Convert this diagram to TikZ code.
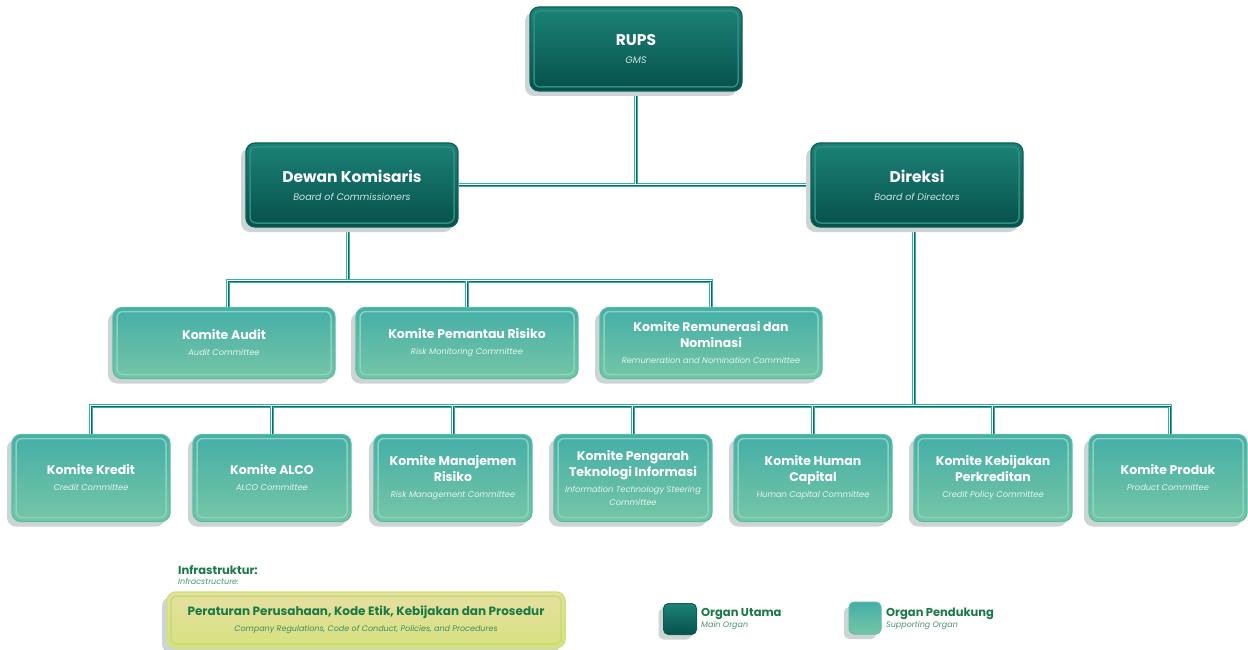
\documentclass[tikz,border=0pt]{standalone}
\usepackage{fontspec}
\setmainfont{Poppins}
\usetikzlibrary{backgrounds}
\definecolor{darkTop}{HTML}{1C8277}
\definecolor{darkBot}{HTML}{06504A}
\definecolor{darkEdge}{HTML}{0E5E56}
\definecolor{darkInner}{HTML}{2E8E84}
\definecolor{lightTop}{HTML}{44AEA8}
\definecolor{lightBot}{HTML}{76C6A5}
\definecolor{lightEdge}{HTML}{5BBBAA}
\definecolor{lightInner}{HTML}{8AD3BD}
\definecolor{shadowGray}{HTML}{CCD5D3}
\definecolor{lineTeal}{HTML}{2BB3A9}
\definecolor{lineDark}{HTML}{17655E}
\definecolor{greenText}{HTML}{1A7A47}
\definecolor{infraTop}{HTML}{E6DFA2}
\definecolor{infraBot}{HTML}{D6E27E}
\definecolor{infraEdge}{HTML}{D3E07E}
\definecolor{infraInner}{HTML}{C5DC6E}
\definecolor{subDark}{HTML}{CFE6E2}
\definecolor{subLight}{HTML}{E6F5F0}
\newcommand\ttlA{\fontsize{15.5}{18}\selectfont\bfseries}
\newcommand\subA{\fontsize{9.5}{18}\selectfont\itshape\color{subDark}}
\newcommand\ttlB{\fontsize{12.5}{16}\selectfont\bfseries}
\newcommand\subB{\fontsize{8.3}{16}\selectfont\itshape\color{subLight}}
\tikzset{
  x={(1pt,0)}, y={(0,-1pt)},
  orgbase/.style={rounded corners=9pt, align=center, text=white, inner sep=2pt,
    preaction={fill=shadowGray, transform canvas={xshift=-5pt,yshift=-5pt}}},
  darkbox/.style={orgbase, top color=darkTop, bottom color=darkBot, draw=darkEdge, line width=1.2pt,
    font=\fontsize{15.5}{18}\selectfont,
    path picture={\draw[darkInner, line width=1.5pt, rounded corners=6pt]
      ([shift={(4pt,4pt)}]path picture bounding box.south west) rectangle
      ([shift={(-4pt,-4pt)}]path picture bounding box.north east);},
    minimum width=212pt, minimum height=84pt},
  lightbox/.style={orgbase, top color=lightTop, bottom color=lightBot, draw=lightEdge, line width=1.2pt,
    font=\fontsize{12.5}{16}\selectfont,
    path picture={\draw[lightInner, line width=1.5pt, rounded corners=6pt]
      ([shift={(4pt,4pt)}]path picture bounding box.south west) rectangle
      ([shift={(-4pt,-4pt)}]path picture bounding box.north east);}},
  midbox/.style={lightbox, minimum width=222pt, minimum height=71pt},
  lowbox/.style={lightbox, minimum width=158pt, minimum height=87pt},
  trip/.style={preaction={draw=lineTeal, line width=4.4pt}, draw=white, line width=2.6pt,
    postaction={draw=lineDark, line width=0.8pt}},
  legtitle/.style={anchor=west, inner sep=0pt, text=greenText, font=\fontsize{11.5}{13}\selectfont\bfseries},
  legsub/.style={anchor=west, inner sep=0pt, text=greenText!80!white, font=\fontsize{8}{10}\selectfont\itshape},
}
\begin{document}
\begin{tikzpicture}
\useasboundingbox (0,0) rectangle (1248,650);

% main organs
\node[darkbox] (rups) at (636,49) {\ttlA RUPS\\\subA GMS};
\node[darkbox] (dk) at (352,185) {\ttlA Dewan Komisaris\\\subA Board of Commissioners};
\node[darkbox] (dir) at (917,185) {\ttlA Direksi\\\subA Board of Directors};

% committees under Dewan Komisaris
\node[midbox] (audit) at (224,343) {\ttlB Komite Audit\\\subB Audit Committee};
\node[midbox] (pemantau) at (467,343) {\ttlB Komite Pemantau Risiko\\\subB Risk Monitoring Committee};
\node[midbox] (remun) at (711,343) {\ttlB Komite Remunerasi dan\\\ttlB Nominasi\\\subB Remuneration and Nomination Committee};

% committees under Direksi
\node[lowbox] (kredit) at (91,478) {\ttlB Komite Kredit\\\subB Credit Committee};
\node[lowbox] (alco) at (272,478) {\ttlB Komite ALCO\\\subB ALCO Committee};
\node[lowbox] (mr) at (453,478) {\ttlB Komite Manajemen\\\ttlB Risiko\\\subB Risk Management Committee};
\node[lowbox] (ti) at (633,478) {\ttlB Komite Pengarah\\\ttlB Teknologi Informasi\\\subB Information Technology Steering\\[-3pt]\subB Committee};
\node[lowbox] (hc) at (813,478) {\ttlB Komite Human\\\ttlB Capital\\\subB Human Capital Committee};
\node[lowbox] (kp) at (993,478) {\ttlB Komite Kebijakan\\\ttlB Perkreditan\\\subB Credit Policy Committee};
\node[lowbox] (produk) at (1168,478) {\ttlB Komite Produk\\\subB Product Committee};

% connectors
\coordinate (j1) at (636,184);
\coordinate (j2) at (348,281);
\coordinate (j3) at (914,406);
\begin{scope}[on background layer]
\fill[white] (0,0) rectangle (1248,650);
\draw[trip] (dk.east) -- (dir.west);
\draw[trip] (rups.south) -- (rups.south |- j1);
\draw[trip] ([xshift=-4pt]dk.south) -- ([xshift=-4pt]dk.south |- j2);
\draw[trip] ([xshift=4pt]audit.north) -- ([xshift=4pt]audit.north |- j2) -- (remun.north |- j2) -- (remun.north);
\draw[trip] (pemantau.north) -- (pemantau.north |- j2);
\draw[trip] ([xshift=-3pt]dir.south) -- ([xshift=-3pt]dir.south |- j3);
\draw[trip] (kredit.north) -- (kredit.north |- j3) -- ([xshift=2pt]produk.north |- j3) -- ([xshift=2pt]produk.north);
\foreach \n in {alco,mr,ti,hc,kp} \draw[trip] (\n.north) -- (\n.north |- j3);
\end{scope}

% infrastructure
\node[legtitle] (inftitle) at (178,570) {Infrastruktur:};
\node[legsub] (infsub) at (178,581) {Infracstructure:};
\node[orgbase, top color=infraTop, bottom color=infraBot, draw=infraEdge, line width=1.5pt,
  minimum width=398pt, minimum height=56pt, text=greenText, font=\fontsize{12}{16}\selectfont,
  path picture={\draw[infraInner, line width=1.5pt, rounded corners=6pt]
      ([shift={(4pt,4pt)}]path picture bounding box.south west) rectangle
      ([shift={(-4pt,-4pt)}]path picture bounding box.north east);}]
  (infra) at (366,620) {\fontsize{12}{16}\selectfont\bfseries Peraturan Perusahaan, Kode Etik, Kebijakan dan Prosedur\\
  \fontsize{8}{16}\selectfont\itshape\color{greenText!85!white} Company Regulations, Code of Conduct, Policies, and Procedures};

% legend
\node[orgbase, rounded corners=5pt, top color=darkTop, bottom color=darkBot, draw=darkEdge, line width=1pt,
  minimum width=33pt, minimum height=31pt, inner sep=0pt,
  preaction={fill=shadowGray, transform canvas={xshift=-3pt,yshift=-3pt}}] (legdark) at (680,619) {};
\node[legtitle] (legdarkt) at (701,614) {Organ Utama};
\node[legsub] (legdarks) at (701,626) {Main Organ};
\node[orgbase, rounded corners=5pt, top color=lightTop, bottom color=lightBot, draw=lightEdge, line width=1pt,
  minimum width=32pt, minimum height=32pt, inner sep=0pt] (leglight) at (865,618) {};
\node[legtitle] (leglightt) at (886,614) {Organ Pendukung};
\node[legsub] (leglights) at (886,626) {Supporting Organ};
\end{tikzpicture}
\end{document}
